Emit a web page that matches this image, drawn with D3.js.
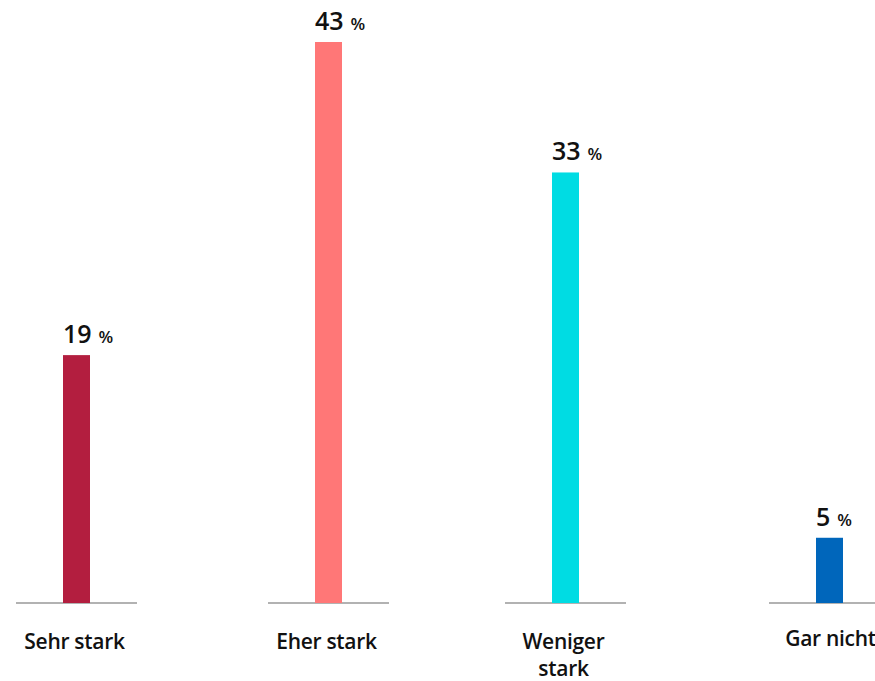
<!DOCTYPE html>
<html>
<head>
<meta charset="utf-8">
<script src="https://cdn.jsdelivr.net/npm/d3@7"></script>
<style>
  body { margin: 0; background: #fff; overflow: hidden; }
  text { font-family: "Open Sans", "Noto Sans", sans-serif; fill: #111; }
</style>
</head>
<body>
<div id="chart"></div>
<script>
// data
var categories = ["Sehr stark", "Eher stark", "Weniger stark", "Gar nicht"];
var values = [19, 43, 33, 5];
var colors = ["#b31e3f", "#ff7777", "#00dce3", "#0066bb"];
var label_lines = [["Sehr stark"], ["Eher stark"], ["Weniger", "stark"], ["Gar nicht"]];

var width = 875, height = 681;
var base_y = 603;

var svg = d3.select("#chart").append("svg")
  .attr("width", width)
  .attr("height", height);

// group centres are not evenly spaced in the original
var x = d3.scaleOrdinal().domain(categories).range([76.5, 328.5, 565.5, 829.5]);
var y = d3.scaleLinear().domain([0, 43]).range([base_y, 42]);

var bar_w = 27, line_w = 121;

var g = svg.selectAll("g.cat")
  .data(categories)
  .enter()
  .append("g")
  .attr("class", "cat");

g.append("line")
  .attr("x1", d => x(d) - line_w / 2)
  .attr("x2", d => x(d) + line_w / 2)
  .attr("y1", base_y)
  .attr("y2", base_y)
  .attr("stroke", "#999")
  .attr("stroke-width", 1.5);

g.append("rect")
  .attr("x", d => x(d) - bar_w / 2)
  .attr("y", (d, i) => y(values[i]))
  .attr("width", bar_w)
  .attr("height", (d, i) => base_y - y(values[i]))
  .attr("fill", (d, i) => colors[i]);

// value labels, left aligned on the bar
var vl = g.append("text")
  .attr("x", d => x(d) - bar_w / 2)
  .attr("y", (d, i) => y(values[i]) - 12);

vl.append("tspan")
  .attr("font-size", 25)
  .attr("font-weight", 600)
  .text((d, i) => values[i]);

vl.append("tspan")
  .attr("dx", 7)
  .attr("font-size", 17)
  .attr("font-weight", 600)
  .text("%");

// category labels, one text per line
g.each(function(c, i) {
  d3.select(this).selectAll("text.cat-label")
    .data(label_lines[i])
    .enter()
    .append("text")
    .attr("class", "cat-label")
    .attr("text-anchor", "middle")
    .attr("font-size", 21)
    .attr("font-weight", 600)
    .attr("letter-spacing", -0.3)
    .attr("x", i == 3 ? x(c) + 1 : x(c) - 2)
    .attr("y", (d, j) => (i == 3 ? 646 : 649) + j * 27)
    .text(d => d);
});
</script>
</body>
</html>
